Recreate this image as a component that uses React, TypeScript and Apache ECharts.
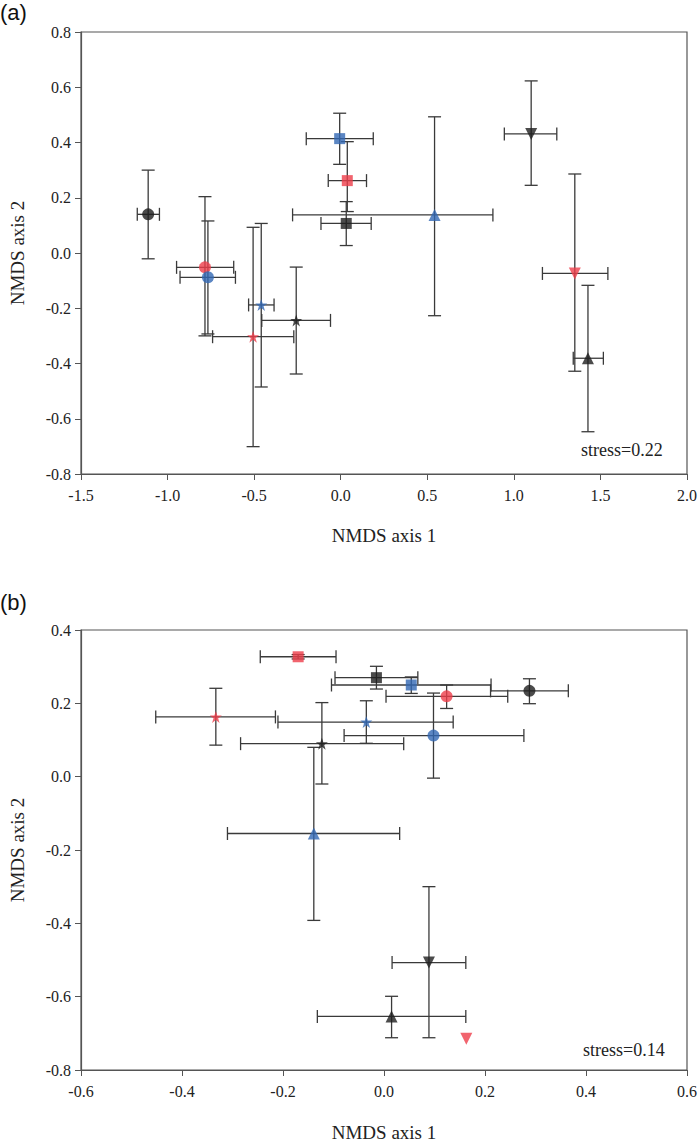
import React, { useEffect, useRef } from "react";
import * as echarts from "echarts";

// Group keys: colour letter (K black, R red, B blue) + shape letter
// (c circle, s star, q square, t triangle, v inverted triangle)
const aGroup = ["Kc", "Rc", "Bc", "Bs", "Rs", "Ks", "Bq", "Rq", "Kq", "Bt", "Kv", "Rv", "Kt"];
const aX = [-1.112, -0.784, -0.767, -0.459, -0.506, -0.257, -0.006, 0.038, 0.032, 0.542, 1.1, 1.352, 1.428];
const aY = [0.14, -0.052, -0.088, -0.188, -0.303, -0.244, 0.414, 0.262, 0.107, 0.138, 0.431, -0.074, -0.381];
const aXLo = [-1.175, -0.948, -0.928, -0.532, -0.74, -0.456, -0.199, -0.072, -0.114, -0.278, 0.945, 1.165, 1.343];
const aXHi = [-1.047, -0.618, -0.608, -0.385, -0.271, -0.059, 0.188, 0.149, 0.176, 0.879, 1.248, 1.543, 1.517];
const aYLo = [-0.021, -0.3, -0.293, -0.485, -0.701, -0.438, 0.321, 0.15, 0.027, -0.227, 0.245, -0.428, -0.647];
const aYHi = [0.3, 0.204, 0.116, 0.107, 0.093, -0.051, 0.506, 0.403, 0.186, 0.493, 0.623, 0.286, -0.117];

const bGroup = ["Rq", "Kq", "Bq", "Rc", "Kc", "Bc", "Bs", "Ks", "Rs", "Bt", "Kv", "Kt", "Rv"];
const bX = [-0.17, -0.015, 0.054, 0.124, 0.288, 0.098, -0.035, -0.123, -0.333, -0.139, 0.089, 0.015, 0.163];
const bY = [0.327, 0.27, 0.25, 0.219, 0.234, 0.112, 0.149, 0.09, 0.163, -0.155, -0.507, -0.654, -0.715];
const bXLo = [-0.245, -0.097, -0.104, 0.004, 0.211, -0.079, -0.21, -0.284, -0.452, -0.31, 0.016, -0.132, null];
const bXHi = [-0.095, 0.067, 0.212, 0.245, 0.365, 0.277, 0.137, 0.039, -0.215, 0.031, 0.162, 0.162, null];
const bYLo = [0.321, 0.239, 0.227, 0.186, 0.199, -0.004, 0.091, -0.02, 0.086, -0.392, -0.712, -0.712, null];
const bYHi = [0.333, 0.301, 0.272, 0.25, 0.267, 0.228, 0.207, 0.202, 0.241, 0.08, -0.3, -0.599, null];

const aXTicks = { min: -1.5, max: 2.0, interval: 0.5 };
const aYTicks = { min: -0.8, max: 0.8, interval: 0.2 };
const bXTicks = { min: -0.6, max: 0.6, interval: 0.2 };
const bYTicks = { min: -0.8, max: 0.4, interval: 0.2 };

const stressA = "stress=0.22";
const stressB = "stress=0.14";

const COLORS: Record<string, string> = { K: "#1e1e1e", R: "#ee3d4a", B: "#3268b4" };
const SHAPES: Record<string, { symbol: string; size: number; rotate: number }> = {
  c: { symbol: "circle", size: 12, rotate: 0 },
  s: { symbol: "path://M50,0 L61.8,35.5 L99,35.5 L69,57.5 L80.5,93 L50,71 L19.5,93 L31,57.5 L1,35.5 L38.2,35.5 Z", size: 12, rotate: 0 },
  q: { symbol: "rect", size: 11, rotate: 0 },
  t: { symbol: "triangle", size: 12, rotate: 0 },
  v: { symbol: "triangle", size: 12, rotate: 180 },
};

const SERIF = "'Liberation Serif', 'Times New Roman', serif";
const ERR = "#3a3a3a";
const CAP = 6.5;

function errData(xs: number[], ys: number[], xlo: any[], xhi: any[], ylo: any[], yhi: any[]) {
  const out: any[] = [];
  xs.forEach((x, i) => {
    if (xlo[i] == null) return;
    out.push([x, ys[i], xlo[i], xhi[i], ylo[i], yhi[i]]);
  });
  return out;
}

function renderErr(params: any, api: any) {
  const x = api.value(0);
  const y = api.value(1);
  const xlo = api.value(2);
  const xhi = api.value(3);
  const ylo = api.value(4);
  const yhi = api.value(5);
  const st = { stroke: ERR, lineWidth: 1.3 };
  const l1 = api.coord([xlo, y]);
  const l2 = api.coord([xhi, y]);
  const v1 = api.coord([x, ylo]);
  const v2 = api.coord([x, yhi]);
  const mk = (x1: number, y1: number, x2: number, y2: number) => ({
    type: "line",
    shape: { x1, y1, x2, y2 },
    style: st,
  });
  return {
    type: "group",
    children: [
      mk(l1[0], l1[1], l2[0], l2[1]),
      mk(l1[0], l1[1] - CAP, l1[0], l1[1] + CAP),
      mk(l2[0], l2[1] - CAP, l2[0], l2[1] + CAP),
      mk(v1[0], v1[1], v2[0], v2[1]),
      mk(v1[0] - CAP, v1[1], v1[0] + CAP, v1[1]),
      mk(v2[0] - CAP, v2[1], v2[0] + CAP, v2[1]),
    ],
  };
}

function pointData(groups: string[], xs: number[], ys: number[]) {
  return xs.map((x, i) => {
    const g = groups[i];
    const sh = SHAPES[g[1]];
    return {
      value: [x, ys[i]],
      symbol: sh.symbol,
      symbolSize: sh.size,
      symbolRotate: sh.rotate,
      itemStyle: { color: COLORS[g[0]] },
    };
  });
}

function xAxisCfg(ticks: any, idx: number, gap: number) {
  return {
    type: "value",
    gridIndex: idx,
    min: ticks.min,
    max: ticks.max,
    interval: ticks.interval,
    name: "NMDS axis 1",
    nameLocation: "middle",
    nameGap: gap,
    nameTextStyle: { fontFamily: SERIF, fontSize: 19, color: "#222" },
    axisLine: { show: true, onZero: false, lineStyle: { color: "#555", width: 1.2 } },
    axisTick: { show: true, inside: false, length: 6, lineStyle: { color: "#555" } },
    axisLabel: {
      fontFamily: SERIF,
      fontSize: 16,
      color: "#222",
      margin: 13,
      formatter: (v: number) => v.toFixed(1),
    },
    splitLine: { show: false },
  };
}

function yAxisCfg(ticks: any, idx: number, gap: number) {
  return {
    type: "value",
    gridIndex: idx,
    min: ticks.min,
    max: ticks.max,
    interval: ticks.interval,
    name: "NMDS axis 2",
    nameLocation: "middle",
    nameGap: gap,
    nameRotate: 90,
    nameTextStyle: { fontFamily: SERIF, fontSize: 19, color: "#222" },
    axisLine: { show: true, onZero: false, lineStyle: { color: "#555", width: 1.2 } },
    axisTick: { show: true, inside: false, length: 6, lineStyle: { color: "#555" } },
    axisLabel: {
      fontFamily: SERIF,
      fontSize: 16,
      color: "#222",
      margin: 10,
      formatter: (v: number) => v.toFixed(1),
    },
    splitLine: { show: false },
  };
}

export default function App() {
  const ref = useRef<HTMLDivElement>(null);
  useEffect(() => {
    if (!ref.current) return;
    const chart = echarts.init(ref.current, undefined, { renderer: "svg" });
    chart.setOption({
      animation: false,
      backgroundColor: "#ffffff",
      grid: [
        { left: 73, top: 32, width: 616, height: 442, show: true, borderColor: "#555", borderWidth: 1.2, backgroundColor: "transparent" },
        { left: 75, top: 630, width: 617, height: 443, show: true, borderColor: "#555", borderWidth: 1.2, backgroundColor: "transparent" },
      ],
      xAxis: [xAxisCfg(aXTicks, 0, 52), xAxisCfg(bXTicks, 1, 53)],
      yAxis: [yAxisCfg(aYTicks, 0, 54), yAxisCfg(bYTicks, 1, 54)],
      graphic: [
        { type: "text", left: 0, top: 1, style: { text: "(a)", font: "22px 'Liberation Sans', Arial, sans-serif", fill: "#111" } },
        { type: "text", left: 0, top: 591, style: { text: "(b)", font: "22px 'Liberation Sans', Arial, sans-serif", fill: "#111" } },
        { type: "text", left: 581, top: 441, style: { text: stressA, font: `18px ${SERIF}`, fill: "#222" } },
        { type: "text", left: 583, top: 1041, style: { text: stressB, font: `18px ${SERIF}`, fill: "#222" } },
      ],
      series: [
        {
          type: "custom",
          xAxisIndex: 0,
          yAxisIndex: 0,
          renderItem: renderErr,
          data: errData(aX, aY, aXLo, aXHi, aYLo, aYHi),
          encode: { x: [0, 2, 3], y: [1, 4, 5] },
          z: 1,
          silent: true,
        },
        {
          type: "scatter",
          xAxisIndex: 0,
          yAxisIndex: 0,
          data: pointData(aGroup, aX, aY),
          z: 3,
        },
        {
          type: "custom",
          xAxisIndex: 1,
          yAxisIndex: 1,
          renderItem: renderErr,
          data: errData(bX, bY, bXLo, bXHi, bYLo, bYHi),
          encode: { x: [0, 2, 3], y: [1, 4, 5] },
          z: 1,
          silent: true,
        },
        {
          type: "scatter",
          xAxisIndex: 1,
          yAxisIndex: 1,
          data: pointData(bGroup, bX, bY),
          z: 3,
        },
      ],
    });
    return () => chart.dispose();
  }, []);
  return (
    <div
      ref={ref}
      style={{ position: "fixed", left: 0, top: 0, width: 700, height: 1143, background: "#fff" }}
    />
  );
}
